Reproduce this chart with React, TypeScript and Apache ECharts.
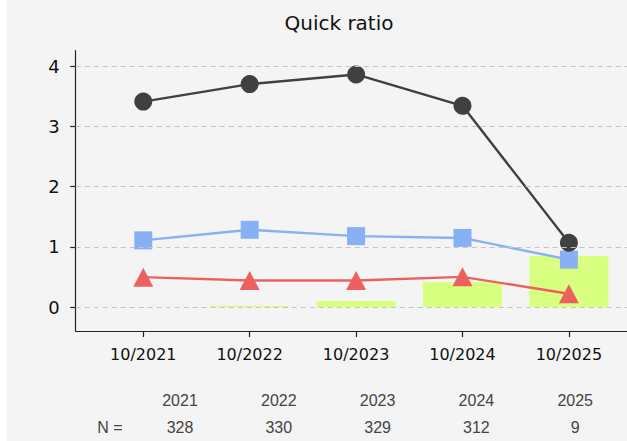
import React, { useEffect, useRef } from "react";
import * as echarts from "echarts";

const title = "Quick ratio";
const categories = ["10/2021", "10/2022", "10/2023", "10/2024", "10/2025"];
const darkValues = [3.41, 3.7, 3.86, 3.34, 1.07];
const blueValues = [1.11, 1.285, 1.18, 1.15, 0.79];
const redValues = [0.5, 0.443, 0.443, 0.505, 0.225];
const barValues = [0, 0.027, 0.105, 0.42, 0.85];
const yTicks = [0, 1, 2, 3, 4];
const tableYears = ["2021", "2022", "2023", "2024", "2025"];
const tableCounts = ["328", "330", "329", "312", "9"];
const countLabel = "N =";

export default function App() {
  const ref = useRef<HTMLDivElement>(null);
  useEffect(() => {
    if (!ref.current) return;
    const chart = echarts.init(ref.current, null, { renderer: "svg" });
    const idx = categories.map((_, i) => i);
    const pts = (vals: number[]) => vals.map((v, i) => [i, v]);
    const tickFont = "DejaVu Sans";
    const tableFont = "Liberation Sans";
    const tableX0 = 173;
    const tableDx = 98.8;
    const graphics: any[] = [
      {
        type: "text",
        x: 332,
        y: 23,
        style: { text: title, font: `20px "${tickFont}"`, fill: "#111", textAlign: "center", textVerticalAlign: "middle" },
      },
      {
        type: "text",
        x: 103,
        y: 427,
        style: { text: countLabel, font: `16px "${tableFont}"`, fill: "#444", textAlign: "center", textVerticalAlign: "middle" },
      },
    ];
    tableYears.forEach((y, i) => {
      graphics.push({
        type: "text",
        x: tableX0 + i * tableDx,
        y: 400,
        style: { text: y, font: `16px "${tableFont}"`, fill: "#444", textAlign: "center", textVerticalAlign: "middle" },
      });
      graphics.push({
        type: "text",
        x: tableX0 + i * tableDx,
        y: 427,
        style: { text: tableCounts[i], font: `16px "${tableFont}"`, fill: "#444", textAlign: "center", textVerticalAlign: "middle" },
      });
    });
    chart.setOption({
      animation: false,
      backgroundColor: "#f4f4f4",
      grid: { left: 68.7, right: 0, top: 50.7, bottom: 110, containLabel: false },
      xAxis: {
        type: "value",
        min: -0.635,
        max: 4.546,
        axisLine: { show: true, onZero: false, lineStyle: { color: "#222", width: 1.2 } },
        axisTick: { show: true, length: 6, customValues: idx, lineStyle: { color: "#222", width: 1.2 } },
        axisLabel: {
          customValues: idx,
          formatter: (v: number) => categories[Math.round(v)] ?? "",
          fontFamily: tickFont,
          fontSize: 16,
          color: "#111",
          margin: 15,
        },
        splitLine: { show: false },
      },
      yAxis: {
        type: "value",
        min: -0.393,
        max: 4.254,
        axisLine: { show: true, onZero: false, lineStyle: { color: "#222", width: 1.2 } },
        axisTick: { show: true, length: 5.5, customValues: yTicks, lineStyle: { color: "#222", width: 1.2 } },
        axisLabel: {
          customValues: yTicks,
          formatter: (v: number) => String(v),
          fontFamily: tickFont,
          fontSize: 18,
          color: "#111",
          margin: 16,
        },
        splitLine: { show: false },
      },
      graphic: graphics,
      series: [
        {
          type: "line",
          data: [],
          silent: true,
          z: 0,
          markLine: {
            silent: true,
            symbol: ["none", "none"],
            label: { show: false },
            lineStyle: { color: "#c4c4c4", type: [5, 4], width: 1 },
            data: yTicks.map((t) => ({ yAxis: t })),
          },
        },
        {
          type: "bar",
          data: pts(barValues),
          barWidth: 79,
          itemStyle: { color: "#d9ff80" },
          z: 1,
        },
        {
          type: "line",
          data: pts(redValues),
          symbol: "triangle",
          symbolSize: [20, 19],
          lineStyle: { color: "#ee6060", width: 2.4 },
          itemStyle: { color: "#ee6060" },
          z: 2,
        },
        {
          type: "line",
          data: pts(blueValues),
          symbol: "rect",
          symbolSize: 18,
          lineStyle: { color: "#87b1f4", width: 2.4 },
          itemStyle: { color: "#87b1f4" },
          z: 3,
        },
        {
          type: "line",
          data: pts(darkValues),
          symbol: "circle",
          symbolSize: 18,
          lineStyle: { color: "#404040", width: 2.4 },
          itemStyle: { color: "#404040" },
          z: 4,
        },
      ],
    });
    return () => chart.dispose();
  }, []);
  return (
    <div
      ref={ref}
      style={{ position: "absolute", left: 7, top: 0, width: 620, height: 441 }}
    />
  );
}
